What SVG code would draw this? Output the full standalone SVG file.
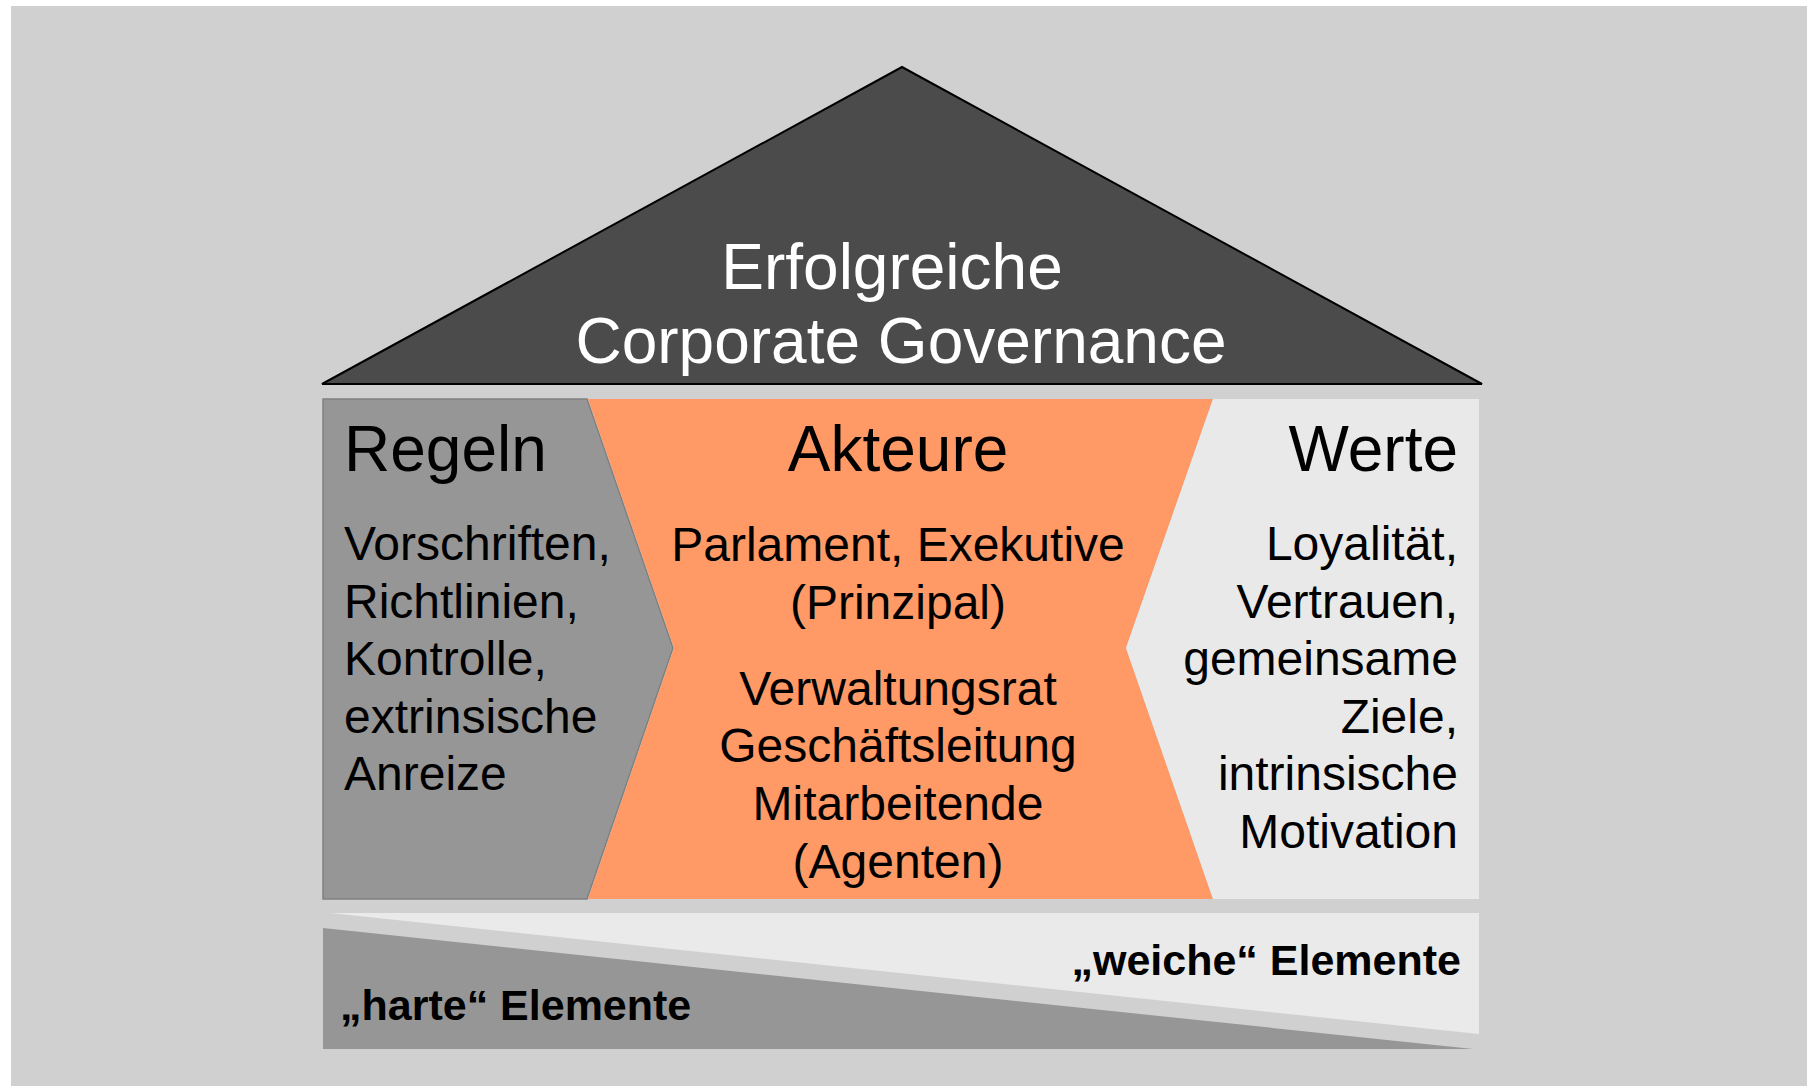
<svg xmlns="http://www.w3.org/2000/svg" width="1807" height="1086" viewBox="0 0 1807 1086">
<style>
  text { font-family: "Liberation Sans", Arial, sans-serif; fill: #000; }
  .head { font-size: 64px; }
  .body { font-size: 48px; }
  .roof { font-size: 64px; fill: #ffffff; text-anchor: middle; }
  .bold { font-size: 43px; font-weight: bold; }
  .mid { text-anchor: middle; }
  .end { text-anchor: end; }
</style>
<rect x="0" y="0" width="1807" height="1086" fill="#ffffff"/>
<rect x="11" y="6" width="1796" height="1080" fill="#d0d0d0"/>

<g id="roof">
  <polygon points="322,384 902,67 1482,384" fill="#4b4b4b" stroke="#000000" stroke-width="2" stroke-linejoin="miter"/>
  <text class="roof" x="892" y="289">Erfolgreiche</text>
  <text class="roof" x="901" y="363">Corporate Governance</text>
</g>

<g id="regeln">
  <polygon points="323,399 587,399 673,648 587,899 323,899" fill="#969696" stroke="#808080" stroke-width="1.5"/>
  <text class="head" x="344" y="471">Regeln</text>
  <text class="body" x="344" y="560">Vorschriften,</text>
  <text class="body" x="344" y="617.5">Richtlinien,</text>
  <text class="body" x="344" y="675">Kontrolle,</text>
  <text class="body" x="344" y="732.5">extrinsische</text>
  <text class="body" x="344" y="790">Anreize</text>
</g>

<g id="akteure">
  <polygon points="588,399 1213,399 1126,648 1213,899 588,899 674,648" fill="#ff9966"/>
  <text class="head mid" x="898" y="471">Akteure</text>
  <text class="body mid" x="898" y="561">Parlament, Exekutive</text>
  <text class="body mid" x="898" y="619">(Prinzipal)</text>
  <text class="body mid" x="898" y="705">Verwaltungsrat</text>
  <text class="body mid" x="898" y="762">Geschäftsleitung</text>
  <text class="body mid" x="898" y="820">Mitarbeitende</text>
  <text class="body mid" x="898" y="878">(Agenten)</text>
</g>

<g id="werte">
  <polygon points="1213,399 1479,399 1479,899 1213,899 1126,648" fill="#e9e9e9"/>
  <text class="head end" x="1458" y="471">Werte</text>
  <text class="body end" x="1458" y="560">Loyalität,</text>
  <text class="body end" x="1458" y="617.5">Vertrauen,</text>
  <text class="body end" x="1458" y="675">gemeinsame</text>
  <text class="body end" x="1458" y="732.5">Ziele,</text>
  <text class="body end" x="1458" y="790">intrinsische</text>
  <text class="body end" x="1458" y="848">Motivation</text>
</g>

<g id="weiche">
  <polygon points="330,913 1479,913 1479,1034" fill="#eaeaea"/>
  <text class="bold end" x="1461" y="975">„weiche“ Elemente</text>
</g>

<g id="harte">
  <polygon points="323,928 1473,1049 323,1049" fill="#969696"/>
  <text class="bold" x="340" y="1020">„harte“ Elemente</text>
</g>

<g id="connectors"></g>
</svg>
